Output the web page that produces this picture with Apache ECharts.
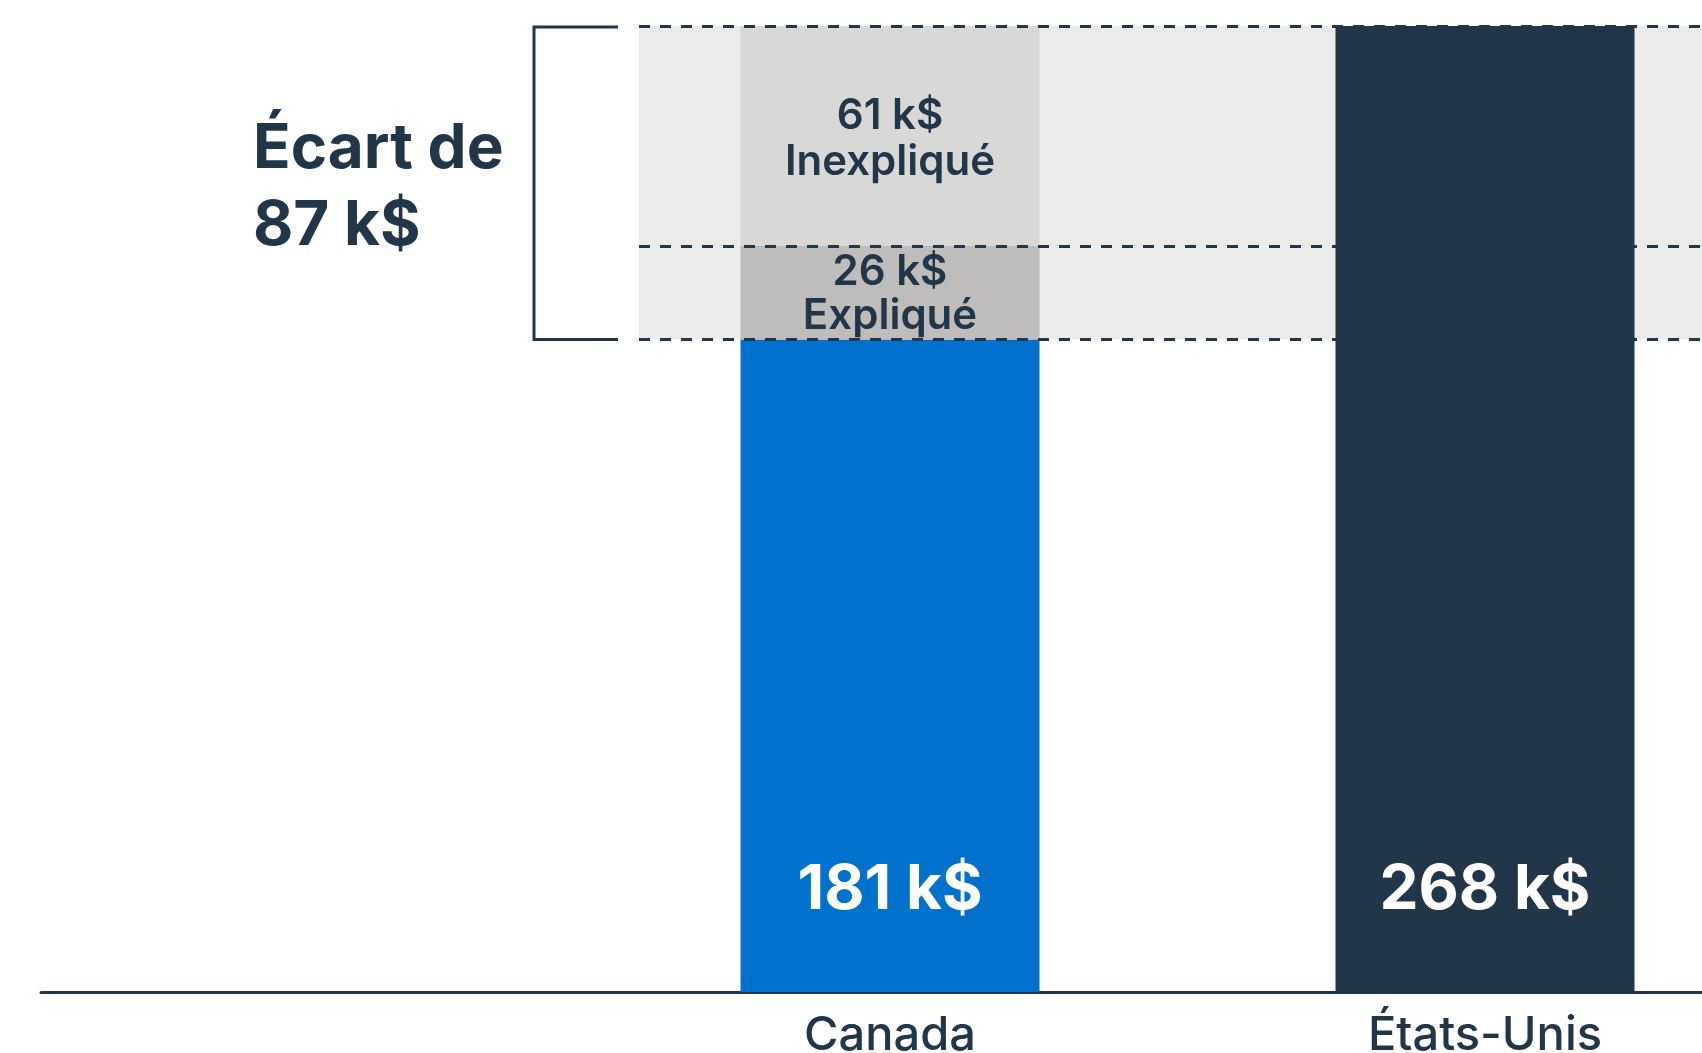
<!DOCTYPE html>
<html>
<head>
<meta charset="utf-8">
<script src="https://cdn.jsdelivr.net/npm/echarts@6/dist/echarts.min.js"></script>
<style>
html,body{margin:0;padding:0;background:#fff;}
#chart{width:1702px;height:1053px;}
</style>
</head>
<body>
<div id="chart"></div>
<script>
// ---- data ----
const categories = ['Canada', 'États-Unis'];
const totalValues = [181, 268];          // base bars (k$)
const explainedGap = [26, null];         // explained part of the gap (k$)
const unexplainedGap = [61, null];       // unexplained part of the gap (k$)
const gapLabels = ['Expliqué', 'Inexpliqué'];
const unit = ' k$';
const gapTitle = 'Écart de';

// ---- styles ----
const NAVY = '#213649';
const BLUE = '#0072ce';
const FONT = 'Inter';

const gapTotal = explainedGap[0] + unexplainedGap[0];
const topValue = totalValues[0] + gapTotal;

const chart = echarts.init(document.getElementById('chart'), null, {renderer: 'canvas'});

const option = {
  animation: false,
  backgroundColor: '#ffffff',
  textStyle: {fontFamily: FONT},
  grid: [
    {left: 592.5, width: 1190, top: 26, bottom: 61, containLabel: false, outerBoundsMode: 'none'},
    {left: 41, width: 552, top: 26, bottom: 61, containLabel: false, outerBoundsMode: 'none'}
  ],
  xAxis: [
    {
      type: 'category', data: categories, gridIndex: 0,
      axisLine: {show: true, lineStyle: {color: NAVY, width: 3}},
      axisTick: {show: false},
      axisLabel: {fontFamily: FONT, fontSize: 47, color: NAVY, margin: 20, fontWeight: 500}
    },
    {
      type: 'value', gridIndex: 1, min: 0, max: 1,
      axisLine: {show: true, lineStyle: {color: NAVY, width: 3}},
      axisTick: {show: false}, axisLabel: {show: false}, splitLine: {show: false}
    }
  ],
  yAxis: [
    {type: 'value', gridIndex: 0, min: 0, max: topValue, show: false},
    {type: 'value', gridIndex: 1, min: 0, max: 1, show: false}
  ],
  series: [
    {
      name: categories[0], type: 'bar', stack: 'total', barWidth: 299,
      data: [totalValues[0], '-'],
      itemStyle: {color: BLUE}, z: 2,
      label: {
        show: true, position: 'insideBottom', distance: 71,
        formatter: p => p.value + unit,
        color: '#ffffff', fontFamily: FONT, fontWeight: 700, fontSize: 62, lineHeight: 62
      },
      markArea: {
        silent: true, z: 1,
        itemStyle: {color: '#ebebe9'},
        data: [[{x: 639, yAxis: totalValues[0]}, {x: 1702, yAxis: topValue}]]
      }
    },
    {
      name: gapLabels[0], type: 'bar', stack: 'total', barWidth: 299,
      data: [explainedGap[0], '-'],
      itemStyle: {color: '#bebdbb'}, z: 2,
      label: {
        show: true, position: 'inside', offset: [0, 2],
        formatter: p => '{a|' + p.value + unit + '}\n{b|' + p.seriesName + '}',
        rich: {
          a: {fontFamily: FONT, fontWeight: 600, fontSize: 42, color: NAVY, lineHeight: 44},
          b: {fontFamily: FONT, fontWeight: 600, fontSize: 42, color: NAVY, lineHeight: 44}
        }
      }
    },
    {
      name: gapLabels[1], type: 'bar', stack: 'total', barWidth: 299,
      data: [unexplainedGap[0], '-'],
      itemStyle: {color: '#d8d8d7'}, z: 2,
      label: {
        show: true, position: 'inside', offset: [0, 3],
        formatter: p => '{a|' + p.value + unit + '}\n{b|' + p.seriesName + '}',
        rich: {
          a: {fontFamily: FONT, fontWeight: 600, fontSize: 42, color: NAVY, lineHeight: 46},
          b: {fontFamily: FONT, fontWeight: 600, fontSize: 42, color: NAVY, lineHeight: 46}
        }
      },
      markLine: {
        silent: true, z: 5, symbol: ['none', 'none'],
        label: {show: false},
        lineStyle: {color: NAVY, width: 3, type: [11, 10]},
        emphasis: {disabled: true},
        data: [
          [{x: 639, yAxis: topValue}, {x: 1702, yAxis: topValue}],
          [{x: 639, yAxis: totalValues[0] + explainedGap[0]}, {x: 1702, yAxis: totalValues[0] + explainedGap[0]}],
          [{x: 639, yAxis: totalValues[0]}, {x: 1702, yAxis: totalValues[0]}]
        ]
      }
    },
    {
      name: categories[1], type: 'bar', stack: 'total', barWidth: 299,
      data: ['-', totalValues[1]],
      itemStyle: {color: NAVY}, z: 10,
      label: {
        show: true, position: 'insideBottom', distance: 71,
        formatter: p => p.value + unit,
        color: '#ffffff', fontFamily: FONT, fontWeight: 700, fontSize: 62, lineHeight: 62
      }
    }
  ]
};

chart.setOption(option);

// bracket + gap text, positioned from the value scale
const yTop = chart.convertToPixel({yAxisIndex: 0}, topValue);
const yBase = chart.convertToPixel({yAxisIndex: 0}, totalValues[0]);
chart.setOption({
  graphic: [
    {
      type: 'polyline', silent: true, z: 20,
      shape: {points: [[618, yTop + 1], [534, yTop + 1], [534, yBase], [618, yBase]]},
      style: {stroke: NAVY, lineWidth: 3, fill: null}
    },
    {
      type: 'text', silent: true, z: 20,
      x: 253, y: (yTop + yBase) / 2 + 5,
      style: {
        text: gapTitle + '\n' + gapTotal + unit,
        fontFamily: FONT, fontWeight: 700, fontSize: 62, lineHeight: 77,
        fill: NAVY, align: 'left', verticalAlign: 'middle'
      }
    }
  ]
});
</script>
</body>
</html>
